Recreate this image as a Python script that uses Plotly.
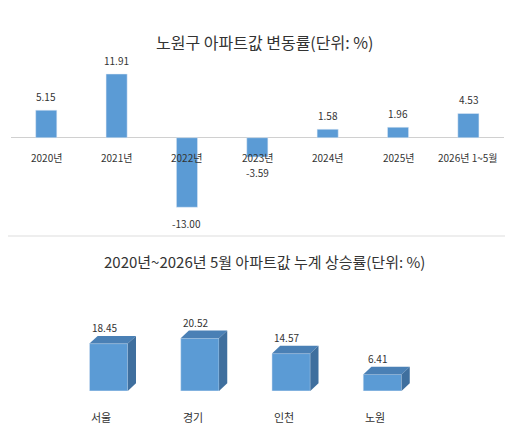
import plotly.graph_objects as go

years = ["2020년", "2021년", "2022년", "2023년", "2024년", "2025년", "2026년 1~5월"]
changes = [5.15, 11.91, -13.00, -3.59, 1.58, 1.96, 4.53]
regions = ["서울", "경기", "인천", "노원"]
cumul = [18.45, 20.52, 14.57, 6.41]

blue = "#5B9BD5"; dark = "#3F6F9E"; side = "#4A80B5"
font = "Noto Sans CJK KR"
fig = go.Figure()
xt = list(range(len(years)))
fig.add_trace(go.Bar(x=xt, y=changes, width=0.3, marker_color=blue, xaxis="x", yaxis="y"))
xb = list(range(len(regions)))
fig.add_trace(go.Bar(x=xb, y=cumul, width=0.42, marker_color=blue, xaxis="x2", yaxis="y2"))
dx, dy, hw = 0.09, 3.0, 0.21
for i, v in enumerate(cumul):
    fig.add_trace(go.Scatter(x=[i-hw, i-hw+dx, i+hw+dx, i+hw, i-hw], y=[v, v+dy, v+dy, v, v],
                             fill="toself", fillcolor=side, line=dict(width=0), mode="lines",
                             xaxis="x2", yaxis="y2"))
    fig.add_trace(go.Scatter(x=[i+hw, i+hw+dx, i+hw+dx, i+hw, i+hw], y=[0, dy, v+dy, v, 0],
                             fill="toself", fillcolor=dark, line=dict(width=0), mode="lines",
                             xaxis="x2", yaxis="y2"))

ann = []
for i, v in enumerate(changes):
    ann.append(dict(x=i, y=v, xref="x", yref="y", text=f"{v:.2f}", showarrow=False,
                    yshift=14 if v > 0 else -16, font=dict(size=10, color="#333")))
    ann.append(dict(x=i, y=0, xref="x", yref="y", text=years[i], showarrow=False,
                    yshift=-20, font=dict(size=10, color="#333")))
for i, v in enumerate(cumul):
    ann.append(dict(x=i-0.05, y=v, xref="x2", yref="y2", text=f"{v:.2f}", showarrow=False,
                    yshift=16, font=dict(size=10, color="#333")))
    ann.append(dict(x=i-hw, y=0, xref="x2", yref="y2", text=regions[i], showarrow=False,
                    xanchor="left", yshift=-26, font=dict(size=11, color="#333")))
ann.append(dict(x=0.5, y=1-20/425, xref="paper", yref="paper", text="노원구 아파트값 변동률(단위: %)",
                showarrow=False, font=dict(size=16, color="#333")))
ann.append(dict(x=0.5, y=1-253/425, xref="paper", yref="paper",
                text="2020년~2026년 5월 아파트값 누계 상승률(단위: %)",
                showarrow=False, font=dict(size=15, color="#333")))

fig.update_layout(
    width=513, height=425, margin=dict(l=0, r=0, t=0, b=0), showlegend=False,
    plot_bgcolor="white", paper_bgcolor="white", font=dict(family=font),
    xaxis=dict(domain=[0.006, 0.966], range=[-0.5, 6.5], visible=False),
    yaxis=dict(domain=[0.506, 0.871], range=[-15, 14], showgrid=False, showticklabels=False,
               zeroline=True, zerolinecolor="#d0d0d0", zerolinewidth=1),
    xaxis2=dict(domain=[55/513, 420/513], range=[-0.5, 3.5], visible=False, anchor="y2"),
    yaxis2=dict(domain=[0.099, 0.28], range=[0, 30], visible=False, anchor="x2"),
    annotations=ann,
    shapes=[dict(type="line", xref="paper", yref="paper", x0=0, x1=1, y0=1-228/425, y1=1-228/425,
                 line=dict(color="#dddddd", width=1))],
)
fig.write_html("out.html")
